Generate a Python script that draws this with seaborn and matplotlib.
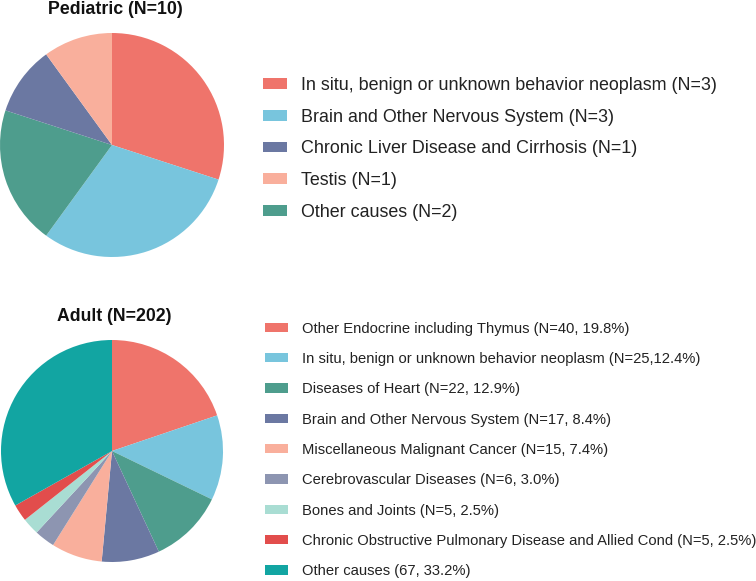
import matplotlib
matplotlib.use("Agg")
import matplotlib.pyplot as plt
from matplotlib.patches import Patch
import seaborn as sns

sns.set_theme(style="white")
plt.rcParams['font.family'] = ['Liberation Sans', 'DejaVu Sans']

# ---- Data ----
ped_labels = ["In situ, benign or unknown behavior neoplasm (N=3)",
              "Brain and Other Nervous System (N=3)",
              "Chronic Liver Disease and Cirrhosis (N=1)",
              "Testis (N=1)",
              "Other causes (N=2)"]
ped_values = [3, 3, 1, 1, 2]
ped_colors = ["#EF746B", "#78C5DD", "#6B78A2", "#F9AF9C", "#4E9D8D"]
ped_pie_order = [0, 1, 4, 2, 3]  # drawing order clockwise from top

adult_labels = ["Other Endocrine including Thymus (N=40, 19.8%)",
                "In situ, benign or unknown behavior neoplasm (N=25,12.4%)",
                "Diseases of Heart (N=22, 12.9%)",
                "Brain and Other Nervous System (N=17, 8.4%)",
                "Miscellaneous Malignant Cancer (N=15, 7.4%)",
                "Cerebrovascular Diseases (N=6, 3.0%)",
                "Bones and Joints (N=5, 2.5%)",
                "Chronic Obstructive Pulmonary Disease and Allied Cond (N=5, 2.5%)",
                "Other causes (67, 33.2%)"]
adult_values = [40, 25, 22, 17, 15, 6, 5, 5, 67]
adult_colors = ["#EF746B", "#78C5DD", "#4E9D8D", "#6B78A2", "#F9AF9C",
                "#8D95B1", "#A9DDD3", "#E24D4C", "#12A5A2"]

W, H = 756, 581
fig = plt.figure(figsize=(W / 100, H / 100), dpi=100)

def px_axes(cx, cy, r):
    return fig.add_axes([(cx - r) / W, (H - cy - r) / H, 2 * r / W, 2 * r / H])

# Pediatric pie
ax1 = px_axes(112, 145, 112)
ax1.pie([ped_values[i] for i in ped_pie_order],
        colors=[ped_colors[i] for i in ped_pie_order],
        startangle=90, counterclock=False,
        wedgeprops=dict(linewidth=0))
ax1.set_xlim(-1, 1); ax1.set_ylim(-1, 1); ax1.set_aspect('equal')
ax1.axis('off')
fig.text(115 / W, 1 - 10 / H, "Pediatric (N=10)", ha='center', va='center',
         fontsize=12.8, fontweight='bold', color='#111111')

# Adult pie
ax2 = px_axes(112, 451, 111)
ax2.pie(adult_values, colors=adult_colors, startangle=90, counterclock=False,
        wedgeprops=dict(linewidth=0))
ax2.set_xlim(-1, 1); ax2.set_ylim(-1, 1); ax2.set_aspect('equal')
ax2.axis('off')
fig.text(114 / W, 1 - 316 / H, "Adult (N=202)", ha='center', va='center',
         fontsize=12.7, fontweight='bold', color='#111111')

# Legends
fs1 = 12.9
p1 = fs1 * 100 / 72
h1 = [Patch(facecolor=c, edgecolor='none') for c in ped_colors]
fig.legend(h1, ped_labels, loc='upper left',
           bbox_to_anchor=(263 / W, 1 - 77 / H), frameon=False,
           fontsize=fs1, borderpad=0, borderaxespad=0,
           handlelength=24 / p1, handleheight=10 / p1,
           handletextpad=14 / p1, labelspacing=0.82,
           labelcolor='#222222')

fs2 = 10.6
p2 = fs2 * 100 / 72
h2 = [Patch(facecolor=c, edgecolor='none') for c in adult_colors]
fig.legend(h2, adult_labels, loc='upper left',
           bbox_to_anchor=(265 / W, 1 - 321.5 / H), frameon=False,
           fontsize=fs2, borderpad=0, borderaxespad=0,
           handlelength=23 / p2, handleheight=9 / p2,
           handletextpad=14 / p2, labelspacing=1.11,
           labelcolor='#222222')

fig.savefig("out.png", dpi=100)
